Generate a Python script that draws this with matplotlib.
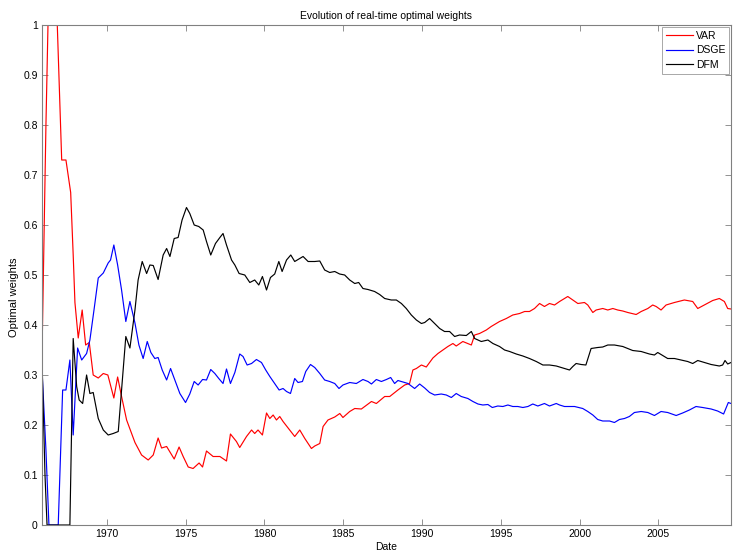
import matplotlib
matplotlib.use("Agg")
import matplotlib.pyplot as plt
import numpy as np

plt.rcParams['font.family'] = ['Liberation Sans', 'DejaVu Sans']

# VAR weights (date, value)
var_dates = [1965.88, 1966.13, 1966.26, 1966.39, 1966.85, 1967.13, 1967.40, 1967.70, 1967.86, 1967.97,
             1968.18, 1968.43, 1968.65, 1968.88, 1969.13, 1969.45, 1969.77, 1970.06, 1970.44, 1970.68,
             1970.93, 1971.25, 1971.78, 1972.20, 1972.62, 1972.94, 1973.25, 1973.47, 1973.79, 1974.00,
             1974.27, 1974.58, 1974.84, 1975.16, 1975.47, 1975.85, 1976.07, 1976.32, 1976.74, 1977.17,
             1977.59, 1977.84, 1978.22, 1978.43, 1978.86, 1979.18, 1979.38, 1979.59, 1979.87, 1980.13,
             1980.34, 1980.55, 1980.76, 1980.97, 1981.18, 1981.60, 1981.92, 1982.24, 1982.56, 1982.98,
             1983.19, 1983.51, 1983.72, 1984.03, 1984.46, 1984.78, 1984.98, 1985.41, 1985.73, 1986.15,
             1986.79, 1987.10, 1987.63, 1987.95, 1988.47, 1988.90, 1989.21, 1989.42, 1989.64, 1989.96,
             1990.27, 1990.69, 1991.01, 1991.33, 1991.64, 1991.96, 1992.17, 1992.59, 1993.13, 1993.34,
             1993.65, 1994.08, 1994.39, 1994.92, 1995.35, 1995.76, 1996.19, 1996.51, 1996.82, 1997.14,
             1997.46, 1997.77, 1998.09, 1998.41, 1998.73, 1999.25, 1999.57, 1999.89, 2000.31, 2000.52,
             2000.84, 2001.05, 2001.47, 2001.79, 2002.11, 2002.42, 2002.74, 2003.06, 2003.59, 2003.91,
             2004.33, 2004.64, 2004.86, 2005.17, 2005.49, 2006.02, 2006.65, 2007.18, 2007.50, 2007.92,
             2008.45, 2008.87, 2009.19, 2009.40, 2009.61]
var_w = [0.34, 0.80, 1.0, 1.0, 1.0, 0.73, 0.73, 0.665, 0.54, 0.445,
         0.374, 0.43, 0.36, 0.365, 0.30, 0.294, 0.303, 0.30, 0.254, 0.296,
         0.257, 0.21, 0.165, 0.14, 0.13, 0.14, 0.174, 0.154, 0.157, 0.146,
         0.132, 0.156, 0.137, 0.116, 0.113, 0.124, 0.116, 0.148, 0.137, 0.137,
         0.128, 0.182, 0.167, 0.155, 0.177, 0.19, 0.183, 0.19, 0.18, 0.224,
         0.213, 0.22, 0.21, 0.217, 0.207, 0.19, 0.177, 0.19, 0.173, 0.153,
         0.158, 0.163, 0.197, 0.21, 0.216, 0.223, 0.215, 0.227, 0.233, 0.232,
         0.247, 0.243, 0.257, 0.257, 0.27, 0.28, 0.283, 0.31, 0.313, 0.32,
         0.316, 0.334, 0.343, 0.35, 0.357, 0.363, 0.358, 0.367, 0.36, 0.38,
         0.383, 0.39, 0.397, 0.407, 0.413, 0.42, 0.423, 0.427, 0.427, 0.433,
         0.443, 0.437, 0.443, 0.44, 0.447, 0.457, 0.45, 0.443, 0.445, 0.44,
         0.425, 0.43, 0.433, 0.43, 0.433, 0.43, 0.428, 0.425, 0.421, 0.427,
         0.433, 0.44, 0.437, 0.43, 0.44, 0.445, 0.45, 0.447, 0.433, 0.44,
         0.449, 0.453, 0.447, 0.433, 0.432]

# DSGE weights
dsge_dates = [1965.88, 1966.13, 1966.32, 1966.91, 1967.19, 1967.40, 1967.65, 1967.86, 1968.14, 1968.40,
              1968.71, 1968.92, 1969.18, 1969.45, 1969.77, 1970.08, 1970.23, 1970.44, 1970.68, 1970.93,
              1971.20, 1971.46, 1971.78, 1972.03, 1972.30, 1972.56, 1972.79, 1973.04, 1973.25, 1973.51,
              1973.79, 1974.04, 1974.31, 1974.63, 1974.99, 1975.26, 1975.54, 1975.79, 1976.07, 1976.32,
              1976.59, 1976.85, 1977.10, 1977.37, 1977.59, 1977.84, 1978.12, 1978.43, 1978.64, 1978.90,
              1979.18, 1979.49, 1979.81, 1980.08, 1980.34, 1980.65, 1980.93, 1981.18, 1981.40, 1981.65,
              1981.92, 1982.13, 1982.41, 1982.62, 1982.92, 1983.19, 1983.51, 1983.82, 1984.14, 1984.46,
              1984.73, 1984.98, 1985.41, 1985.83, 1986.25, 1986.57, 1986.79, 1987.10, 1987.42, 1987.74,
              1988.01, 1988.26, 1988.47, 1988.79, 1989.11, 1989.53, 1989.85, 1990.17, 1990.48, 1990.80,
              1991.22, 1991.54, 1991.86, 1992.17, 1992.49, 1992.91, 1993.23, 1993.55, 1993.86, 1994.18,
              1994.46, 1994.81, 1995.13, 1995.45, 1995.76, 1996.08, 1996.40, 1996.72, 1997.03, 1997.35,
              1997.77, 1998.09, 1998.52, 1998.73, 1999.04, 1999.36, 1999.68, 2000.20, 2000.52, 2000.84,
              2001.15, 2001.47, 2001.90, 2002.21, 2002.53, 2002.85, 2003.16, 2003.48, 2003.91, 2004.33,
              2004.75, 2005.17, 2005.59, 2006.13, 2006.54, 2006.97, 2007.39, 2007.81, 2008.35, 2008.76,
              2009.14, 2009.44, 2009.61]
dsge_w = [0.31, 0.15, 0.0, 0.0, 0.27, 0.27, 0.33, 0.18, 0.354, 0.33,
          0.343, 0.37, 0.43, 0.494, 0.504, 0.524, 0.53, 0.56, 0.52, 0.47,
          0.407, 0.447, 0.404, 0.36, 0.333, 0.367, 0.345, 0.333, 0.335, 0.31,
          0.29, 0.313, 0.29, 0.263, 0.245, 0.262, 0.287, 0.28, 0.291, 0.29,
          0.311, 0.303, 0.293, 0.283, 0.312, 0.283, 0.305, 0.342, 0.337, 0.32,
          0.323, 0.331, 0.325, 0.31, 0.297, 0.283, 0.27, 0.273, 0.267, 0.263,
          0.293, 0.285, 0.287, 0.307, 0.321, 0.315, 0.303, 0.29, 0.287, 0.283,
          0.273, 0.28, 0.285, 0.283, 0.291, 0.287, 0.282, 0.291, 0.287, 0.291,
          0.295, 0.283, 0.289, 0.286, 0.283, 0.273, 0.282, 0.274, 0.265, 0.26,
          0.262, 0.26, 0.255, 0.263, 0.257, 0.253, 0.247, 0.242, 0.24, 0.241,
          0.235, 0.238, 0.237, 0.24, 0.237, 0.237, 0.235, 0.237, 0.242, 0.238,
          0.243, 0.238, 0.243, 0.24, 0.237, 0.237, 0.237, 0.233, 0.227, 0.22,
          0.211, 0.208, 0.208, 0.205, 0.211, 0.213, 0.217, 0.225, 0.227, 0.225,
          0.219, 0.227, 0.225, 0.219, 0.224, 0.23, 0.237, 0.235, 0.232, 0.228,
          0.222, 0.245, 0.243]

# DFM weights
dfm_dates = [1965.88, 1966.07, 1966.20, 1967.53, 1967.65, 1967.86, 1968.08, 1968.24, 1968.46, 1968.71,
             1968.92, 1969.13, 1969.45, 1969.77, 1970.08, 1970.40, 1970.72, 1970.93, 1971.20, 1971.46,
             1971.78, 1971.98, 1972.24, 1972.52, 1972.73, 1972.94, 1973.25, 1973.57, 1973.79, 1974.00,
             1974.27, 1974.52, 1974.77, 1975.05, 1975.26, 1975.54, 1975.83, 1976.11, 1976.32, 1976.59,
             1976.89, 1977.17, 1977.37, 1977.59, 1977.91, 1978.12, 1978.39, 1978.75, 1979.07, 1979.38,
             1979.64, 1979.87, 1980.13, 1980.38, 1980.65, 1980.91, 1981.12, 1981.40, 1981.67, 1981.92,
             1982.19, 1982.45, 1982.77, 1983.19, 1983.51, 1983.82, 1984.14, 1984.46, 1984.77, 1985.09,
             1985.41, 1985.73, 1985.98, 1986.25, 1986.57, 1986.99, 1987.31, 1987.63, 1988.05, 1988.37,
             1988.69, 1989.00, 1989.32, 1989.64, 1989.96, 1990.17, 1990.48, 1990.80, 1991.12, 1991.43,
             1991.75, 1992.07, 1992.38, 1992.81, 1993.13, 1993.34, 1993.76, 1994.18, 1994.50, 1994.92,
             1995.24, 1995.56, 1995.98, 1996.40, 1996.82, 1997.25, 1997.67, 1998.09, 1998.52, 1998.83,
             1999.36, 1999.57, 1999.78, 2000.10, 2000.40, 2000.73, 2001.15, 2001.47, 2001.79, 2002.21,
             2002.74, 2003.06, 2003.37, 2003.91, 2004.12, 2004.43, 2004.75, 2004.96, 2005.28, 2005.59,
             2006.02, 2006.44, 2006.86, 2007.18, 2007.50, 2007.92, 2008.35, 2008.87, 2009.08, 2009.23,
             2009.40, 2009.61]
dfm_w = [0.33, 0.10, 0.0, 0.0, 0.0, 0.373, 0.277, 0.25, 0.243, 0.30,
         0.263, 0.265, 0.213, 0.19, 0.18, 0.183, 0.187, 0.27, 0.377, 0.354,
         0.43, 0.49, 0.527, 0.503, 0.52, 0.519, 0.491, 0.54, 0.553, 0.537,
         0.573, 0.575, 0.61, 0.635, 0.623, 0.60, 0.597, 0.59, 0.567, 0.54,
         0.563, 0.575, 0.583, 0.56, 0.53, 0.52, 0.503, 0.50, 0.485, 0.49,
         0.48, 0.497, 0.47, 0.495, 0.502, 0.527, 0.507, 0.53, 0.54, 0.527,
         0.532, 0.537, 0.527, 0.527, 0.528, 0.51, 0.505, 0.507, 0.502, 0.50,
         0.49, 0.483, 0.485, 0.473, 0.471, 0.467, 0.461, 0.453, 0.45, 0.45,
         0.443, 0.433, 0.42, 0.41, 0.403, 0.405, 0.413, 0.403, 0.393, 0.387,
         0.387, 0.377, 0.38, 0.379, 0.387, 0.373, 0.367, 0.37, 0.363, 0.357,
         0.35, 0.347, 0.342, 0.338, 0.333, 0.327, 0.32, 0.32, 0.318, 0.315,
         0.31, 0.317, 0.323, 0.321, 0.32, 0.353, 0.355, 0.356, 0.36, 0.36,
         0.357, 0.353, 0.349, 0.347, 0.345, 0.342, 0.34, 0.345, 0.339, 0.333,
         0.333, 0.33, 0.327, 0.323, 0.329, 0.325, 0.321, 0.318, 0.32, 0.329,
         0.322, 0.325]

x_ticks = [1970, 1975, 1980, 1985, 1990, 1995, 2000, 2005]
y_ticks = [0, 0.1, 0.2, 0.3, 0.4, 0.5, 0.6, 0.7, 0.8, 0.9, 1]
y_labels = ['0', '0.1', '0.2', '0.3', '0.4', '0.5', '0.6', '0.7', '0.8', '0.9', '1']

fig = plt.figure(figsize=(7.33, 5.53), dpi=100)
ax = fig.add_axes([42/733, 28/553, 689/733, 500/553])

ax.plot(var_dates, var_w, color='#ff0000', lw=0.85, label='VAR')
ax.plot(dsge_dates, dsge_w, color='#0000ff', lw=0.85, label='DSGE')
ax.plot(dfm_dates, dfm_w, color='black', lw=0.85, label='DFM')

ax.set_xlim(var_dates[0], var_dates[-1])
ax.set_ylim(0, 1)
ax.set_xticks(x_ticks)
ax.set_yticks(y_ticks)
ax.set_yticklabels(y_labels)
ax.tick_params(direction='in', top=True, right=True, length=4, width=0.6,
               color='#808080', labelsize=7.5, pad=3)
for s in ax.spines.values():
    s.set_color('#808080')
    s.set_linewidth(0.8)

ax.set_title('Evolution of real-time optimal weights', fontsize=7.5, pad=4)
ax.set_xlabel('Date', fontsize=7.5, labelpad=2)
ax.set_ylabel('Optimal weights', fontsize=8)
ax.yaxis.set_label_coords(-0.034, 0.456)

leg = ax.legend(loc='upper right', fontsize=7.5, frameon=True, fancybox=False,
                borderaxespad=0.2, handlelength=2.6, handletextpad=0.3,
                labelspacing=0.45, borderpad=0.35)
leg.get_frame().set_edgecolor('#808080')
leg.get_frame().set_linewidth(0.6)

fig.savefig('out.png', dpi=100)
